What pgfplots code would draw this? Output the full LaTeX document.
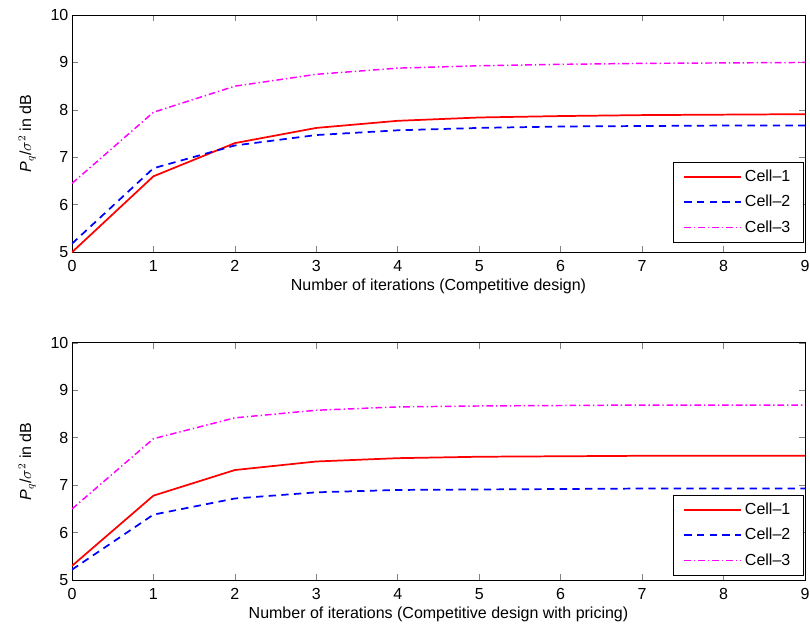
\documentclass[border=0pt]{standalone}
\usepackage{pgfplots}
\pgfplotsset{compat=1.18}
\usepackage{fontspec}
\setmainfont{Liberation Sans}
\definecolor{mred}{rgb}{1,0,0}
\definecolor{mblue}{rgb}{0,0,1}
\definecolor{mmag}{rgb}{1,0,1}
\tikzset{
  lA/.style={draw=mred, line width=1.4pt, solid},
  lB/.style={draw=mblue, line width=1.4pt, dash pattern=on 5.5pt off 4pt},
  lC/.style={draw=mmag, line width=1.2pt, dash pattern=on 5pt off 2.2pt on 1pt off 2.2pt},
}
\pgfplotsset{
  myax/.style={
    scale only axis, width=550pt, height=178pt,
    xmin=0, xmax=9, ymin=5, ymax=10,
    xtick={0,...,9}, ytick={5,...,10},
    tick align=inside, tick pos=both,
    major tick length=4.5pt,
    major tick style={line width=0.5pt},
    /pgf/number format/assume math mode=true,
    ticklabel style={font=\fontsize{12}{14}\selectfont},
    xticklabel style={yshift=-2pt},
    yticklabel style={xshift=1.5pt},
    label style={font=\fontsize{12}{14}\selectfont},
    ylabel={\textit{P}$_q$/$\sigma^2$ in dB},
    xlabel style={yshift=3pt},
    ylabel style={yshift=3pt},
    axis line style={line width=0.6pt},
    legend cell align=left,
    legend style={anchor=south east, draw=black, font=\fontsize{12}{14}\selectfont, inner xsep=8pt, inner ysep=3.5pt, row sep=4.5pt},
  },
}
\begin{document}
\fontsize{12}{14}\selectfont
\begin{tikzpicture}
\begin{axis}[myax, name=top, at={(0,0)}, xlabel={Number of iterations (Competitive design)},
  legend style={at={(0.9985,0.042)}}]
\addlegendimage{legend image code/.code={\draw[lA] (0cm,0cm) -- (1.5cm,0cm);}}
\addlegendentry{Cell--1\hspace{12pt}}
\addlegendimage{legend image code/.code={\draw[lB] (0cm,0cm) -- (1.5cm,0cm);}}
\addlegendentry{Cell--2\hspace{12pt}}
\addlegendimage{legend image code/.code={\draw[lC] (0cm,0cm) -- (1.5cm,0cm);}}
\addlegendentry{Cell--3\hspace{12pt}}
\addplot[forget plot, lA, line width=1.3pt] coordinates {(0,5.0) (1,6.6) (2,7.3) (3,7.62) (4,7.77) (5,7.84) (6,7.87) (7,7.89) (8,7.9) (9,7.91)};
\addplot[forget plot, lB, line width=1.3pt] coordinates {(0,5.18) (1,6.77) (2,7.25) (3,7.47) (4,7.57) (5,7.62) (6,7.65) (7,7.66) (8,7.67) (9,7.67)};
\addplot[forget plot, lC, line width=1.1pt] coordinates {(0,6.45) (1,7.95) (2,8.5) (3,8.75) (4,8.88) (5,8.93) (6,8.96) (7,8.98) (8,8.99) (9,9.0)};
\end{axis}
\begin{axis}[myax, name=bot, at={(0,-246pt)}, xlabel={Number of iterations (Competitive design with pricing)},
  legend style={at={(0.9985,0.021)}}]
\addlegendimage{legend image code/.code={\draw[lA] (0cm,0cm) -- (1.5cm,0cm);}}
\addlegendentry{Cell--1\hspace{10pt}}
\addlegendimage{legend image code/.code={\draw[lB] (0cm,0cm) -- (1.5cm,0cm);}}
\addlegendentry{Cell--2\hspace{10pt}}
\addlegendimage{legend image code/.code={\draw[lC] (0cm,0cm) -- (1.5cm,0cm);}}
\addlegendentry{Cell--3\hspace{10pt}}
\addplot[forget plot, lA, line width=1.3pt] coordinates {(0,5.3) (1,6.78) (2,7.32) (3,7.5) (4,7.57) (5,7.6) (6,7.61) (7,7.62) (8,7.62) (9,7.62)};
\addplot[forget plot, lB, line width=1.3pt] coordinates {(0,5.22) (1,6.38) (2,6.72) (3,6.85) (4,6.9) (5,6.91) (6,6.92) (7,6.93) (8,6.93) (9,6.93)};
\addplot[forget plot, lC, line width=1.1pt] coordinates {(0,6.5) (1,7.98) (2,8.42) (3,8.58) (4,8.65) (5,8.67) (6,8.68) (7,8.69) (8,8.69) (9,8.69)};
\end{axis}
\pgfresetboundingbox
\path[use as bounding box] ([xshift=-54pt,yshift=11.25pt]top.north west) rectangle ([xshift=3.75pt,yshift=-35.25pt]bot.south east);
\end{tikzpicture}
\end{document}
